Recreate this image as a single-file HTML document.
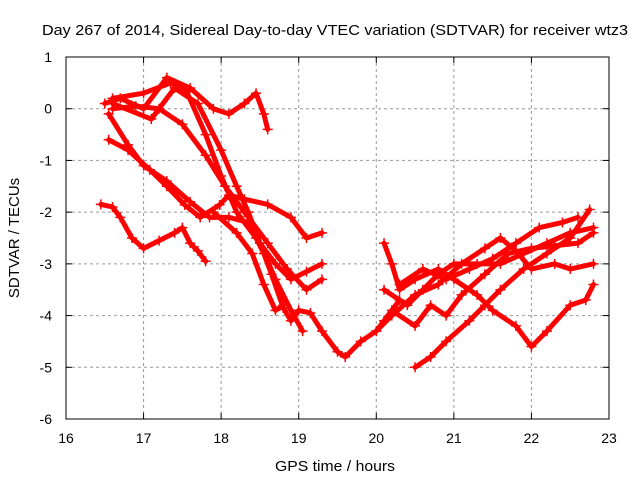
<!DOCTYPE html>
<html><head><meta charset="utf-8"><style>body{margin:0;background:#fff}svg{display:block;font-family:"Liberation Sans",sans-serif}</style></head>
<body>
<svg id="chart" width="640" height="480">
<text x="42" y="35" font-size="15" textLength="586" lengthAdjust="spacingAndGlyphs">Day 267 of 2014, Sidereal Day-to-day VTEC variation (SDTVAR) for receiver wtz3</text>
<text x="275" y="471" font-size="15" textLength="120" lengthAdjust="spacingAndGlyphs">GPS time / hours</text>
<text transform="translate(19,238) rotate(-90)" font-size="15" text-anchor="middle">SDTVAR / TECUs</text>
<g id="grid"></g><g id="series"></g>
<rect x="66" y="57" width="543" height="362" fill="none" stroke="#000"/>
</svg>
<script>
const xTicks=[16,17,18,19,20,21,22,23];
const yTicks=[1,0,-1,-2,-3,-4,-5,-6];
const trackT1=[[16.45,-1.85],[16.6,-1.9],[16.7,-2.1],[16.85,-2.5],[17.0,-2.7],[17.2,-2.55],[17.4,-2.4],[17.5,-2.3],[17.6,-2.6],[17.7,-2.75],[17.8,-2.95]];
const trackT2=[[16.55,-0.6],[16.8,-0.8],[17.08,-1.18],[17.3,-1.5],[17.53,-1.86],[17.73,-2.1],[17.98,-1.86],[18.1,-1.67],[18.3,-1.75],[18.6,-1.85],[18.9,-2.1],[19.1,-2.5],[19.3,-2.4]];
const trackT3=[[16.5,0.1],[16.7,0.2],[17.0,0.0],[17.3,0.6],[17.6,0.4],[17.9,0.0],[18.1,-0.1],[18.3,0.1],[18.45,0.3],[18.55,-0.1],[18.6,-0.4]];
const trackT4=[[16.6,0.0],[16.9,0.05],[17.2,0.0],[17.5,-0.3],[17.8,-0.9],[18.05,-1.5],[18.3,-2.0],[18.6,-2.6],[18.85,-3.1],[19.1,-3.5],[19.3,-3.3]];
const trackT5=[[16.6,0.2],[17.0,0.3],[17.35,0.5],[17.55,0.35],[17.8,-0.5],[18.0,-1.3],[18.2,-2.0],[18.45,-2.5],[18.7,-3.0],[18.9,-3.3],[19.1,-3.15],[19.3,-3.0]];
const trackT6=[[16.6,0.1],[17.1,-0.2],[17.4,0.4],[17.7,0.1],[18.0,-0.8],[18.2,-1.5],[18.35,-2.0],[18.5,-2.6],[18.7,-3.3],[18.9,-3.9],[19.05,-4.3]];
const trackT7=[[16.55,-0.1],[16.8,-0.7],[17.0,-1.1],[17.3,-1.4],[17.6,-1.8],[17.85,-2.1],[18.1,-2.1],[18.35,-2.2],[18.55,-2.8],[18.65,-3.2],[18.8,-3.85],[18.9,-4.1],[19.0,-3.9],[19.15,-3.95],[19.3,-4.3],[19.5,-4.7],[19.6,-4.8],[19.8,-4.5],[20.0,-4.3],[20.1,-4.1],[20.3,-3.7]];
const trackT8=[[17.9,-2.0],[18.2,-2.4],[18.4,-2.8],[18.55,-3.4],[18.7,-3.9],[18.8,-3.8]];
const trackR1=[[20.1,-2.6],[20.2,-3.0],[20.3,-3.5],[20.5,-3.3],[20.8,-3.1],[21.0,-3.3],[21.3,-3.6],[21.5,-3.9],[21.8,-4.2],[22.0,-4.6],[22.2,-4.3],[22.5,-3.8],[22.7,-3.7],[22.8,-3.4]];
const trackR2=[[20.5,-5.0],[20.7,-4.8],[20.9,-4.5],[21.2,-4.1],[21.4,-3.8],[21.6,-3.5],[21.9,-3.1],[22.2,-2.8],[22.5,-2.5],[22.75,-1.95]];
const trackR3=[[20.0,-4.3],[20.2,-4.0],[20.5,-3.6],[20.8,-3.4],[21.1,-3.0],[21.4,-2.7],[21.6,-2.5],[21.8,-2.75],[22.0,-3.1],[22.3,-3.0],[22.5,-3.1],[22.8,-3.0]];
const trackR4=[[20.1,-3.5],[20.4,-3.8],[20.6,-3.5],[20.8,-3.2],[21.0,-3.0],[21.3,-3.0],[21.6,-3.0],[21.9,-2.8],[22.2,-2.6],[22.5,-2.4],[22.8,-2.3]];
const trackR5=[[20.2,-3.9],[20.5,-4.2],[20.7,-3.8],[20.9,-4.0],[21.1,-3.6],[21.4,-3.2],[21.7,-2.8],[22.0,-2.7],[22.3,-2.65],[22.6,-2.6],[22.8,-2.4]];
const trackR6=[[20.3,-3.4],[20.6,-3.1],[20.9,-3.3],[21.2,-3.1],[21.5,-2.9],[21.8,-2.6],[22.1,-2.3],[22.4,-2.2],[22.6,-2.1]];
const tracks=[trackT1,trackT2,trackT3,trackT4,trackT5,trackT6,trackT7,trackT8,trackR1,trackR2,trackR3,trackR4,trackR5,trackR6];

const NS='http://www.w3.org/2000/svg';
const X=h=>66+(h-16)*(543/7);
const Y=v=>57+(1-v)*(362/7);
const grid=document.getElementById('grid'),svg=document.getElementById('chart'),ser=document.getElementById('series');
function mk(t,a,p){const e=document.createElementNS(NS,t);for(const k in a)e.setAttribute(k,a[k]);p.appendChild(e);return e;}
xTicks.forEach(t=>{
  const x=X(t);
  if(t>16&&t<23){const g=mk('line',{x1:x,x2:x,y1:57,y2:419,stroke:'#999','stroke-dasharray':'3,3'},grid);
  
  }
  mk('line',{x1:x,x2:x,y1:419,y2:413,stroke:'#000'},grid);mk('line',{x1:x,x2:x,y1:57,y2:63,stroke:'#000'},grid);
  const l=mk('text',{x:x,y:443,'font-size':14,'text-anchor':'middle'},svg);l.textContent=t;
  
  
});
yTicks.forEach(t=>{
  const y=Y(t);
  if(t<1&&t>-6){const g=mk('line',{x1:66,x2:609,y1:y,y2:y,stroke:'#999','stroke-dasharray':'3,3'},grid);
  
  }
  mk('line',{x1:66,x2:72,y1:y,y2:y,stroke:'#000'},grid);mk('line',{x1:609,x2:603,y1:y,y2:y,stroke:'#000'},grid);
  const l=mk('text',{x:52,y:y+5,'font-size':14,'text-anchor':'end'},svg);l.textContent=t;
  
  
});
tracks.forEach(tr=>{
  const g=mk('g',{},ser);
  
  
  mk('polyline',{points:tr.map(p=>X(p[0])+','+Y(p[1])).join(' '),fill:'none',stroke:'#f00','stroke-width':5,'stroke-linejoin':'round','stroke-linecap':'round'},g);
  tr.forEach(p=>{const x=X(p[0]),y=Y(p[1]);
    mk('path',{d:`M${x-5},${y}H${x+5}M${x},${y-5}V${y+5}`,stroke:'#f00','stroke-width':1.5},g);});
});
</script>
</body></html>
